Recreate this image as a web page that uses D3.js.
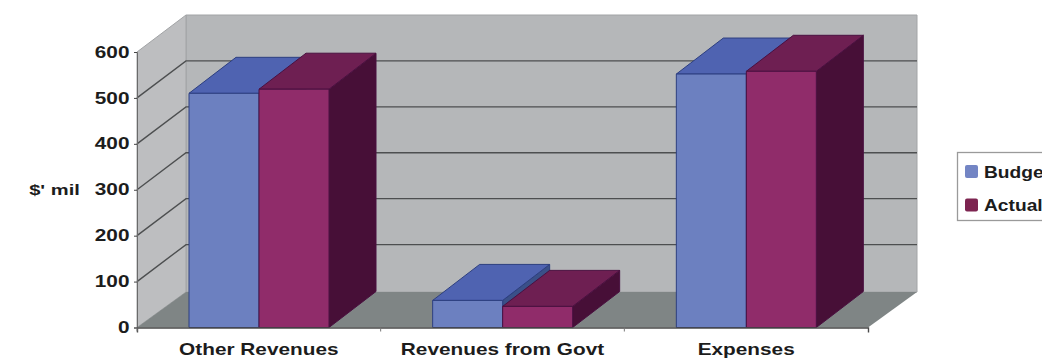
<!DOCTYPE html>
<html>
<head>
<meta charset="utf-8">
<script src="https://cdn.jsdelivr.net/npm/d3@7"></script>
<style>
  html, body { margin: 0; padding: 0; background: #fff; overflow: hidden; }
  text { font-family: "Liberation Sans", Arial, sans-serif; font-weight: bold; fill: #1c1c1c; }
</style>
</head>
<body>
<svg id="chart" width="1042" height="358"></svg>
<script>
const categories = ["Other Revenues", "Revenues from Govt", "Expenses"];
const seriesNames = ["Budget", "Actual"];
const budgetValues = [510, 59, 552];
const actualValues = [519, 46, 558];
const yTicks = [0, 100, 200, 300, 400, 500, 600];

const palette = {
  Budget: { front: "#6c80c0", top: "#4f63b1", side: "#3a5088", edge: "#2d3f80", key: "#7385c4" },
  Actual: { front: "#902c6a", top: "#6e1f52", side: "#470f37", edge: "#4a1040", key: "#7d2450" }
};

// Oblique projection: depth of the box and the shift each receding edge gets
const depthX = 49, depthY = 37, floorDepthY = 35.5;
const barDepthX = 47, barDepthY = 36;

// All labels are set in a horizontally widened face
const fontSize = 16, widen = 1.3, legendWiden = 1.2;

const svg = d3.select("#chart");
const x = d3.scaleBand().domain(categories).range([137, 868]);
const inner = d3.scaleBand().domain(seriesNames).range([52, 192]);
const y = d3.scaleLinear().domain([0, 600]).range([327.5, 52]);

const poly = (pts, fill, stroke) => svg.append("polygon")
  .attr("points", pts.map(p => p.join(",")).join(" "))
  .attr("fill", fill)
  .attr("stroke", stroke || "none")
  .attr("stroke-width", 1);

const x0 = x.range()[0], x1 = x.range()[1];
const yBase = y(0), yTop = y(600);

// Walls and floor
poly([[x0 + depthX, yTop - depthY], [x1 + depthX, yTop - depthY], [x1 + depthX, yBase - floorDepthY], [x0 + depthX, yBase - floorDepthY]], "#b5b7b9", "#a2a4a6");
poly([[x0, yTop], [x0 + depthX, yTop - depthY], [x0 + depthX, yBase - floorDepthY], [x0, yBase]], "#bdbec0", "#a2a4a6");
poly([[x0, yBase], [x0 + depthX, yBase - floorDepthY], [x1 + depthX, yBase - floorDepthY], [x1, yBase]], "#7f8585");

// Gridlines run along the side wall, then across the back wall
const gridPath = d3.line();
svg.append("g").selectAll("path")
  .data(yTicks.filter(t => t > 0 && t < 600))
  .join("path")
  .attr("d", t => gridPath([[x0, y(t)], [x0 + depthX, y(t) - depthY], [x1 + depthX, y(t) - depthY]]))
  .attr("fill", "none")
  .attr("stroke", "#4d4f50")
  .attr("stroke-width", 1.4);

// Boxes: budget first so the actual box sits in front of its side face
const rows = [
  { name: "Budget", values: budgetValues },
  { name: "Actual", values: actualValues }
];
rows.forEach(row => {
  const c = palette[row.name];
  categories.forEach((cat, i) => {
    const l = x(cat) + inner(row.name);
    const r = l + inner.bandwidth();
    const t = y(row.values[i]);
    poly([[r, t], [r + barDepthX, t - barDepthY], [r + barDepthX, yBase - barDepthY], [r, yBase]], c.side, c.edge);
    poly([[l, t], [l + barDepthX, t - barDepthY], [r + barDepthX, t - barDepthY], [r, t]], c.top, c.edge);
    poly([[l, t], [r, t], [r, yBase], [l, yBase]], c.front, c.edge);
  });
});

// Value axis
const yAxis = svg.append("g")
  .attr("transform", `translate(${x0},0)`)
  .call(d3.axisLeft(y).tickValues(yTicks).tickSize(3).tickPadding(4));
yAxis.select(".domain").attr("stroke", "#6a6a6a");
yAxis.selectAll(".tick line").attr("stroke", "#444");
yAxis.selectAll("text")
  .attr("x", -7.5 / widen)
  .attr("transform", `scale(${widen},1)`)
  .attr("font-size", fontSize)
  .style("font-family", "'Liberation Sans', Arial, sans-serif");

// Category axis with ticks between the groups
const xAxis = svg.append("g")
  .attr("transform", `translate(0,${yBase})`)
  .call(d3.axisBottom(x).tickSizeOuter(5).tickSizeInner(0).tickPadding(16));
xAxis.select(".domain").attr("stroke", "#4a4a4a").attr("stroke-width", 1.4);
xAxis.selectAll("text")
  .attr("transform", `scale(${widen},1)`)
  .attr("font-size", fontSize)
  .style("font-family", "'Liberation Sans', Arial, sans-serif");
xAxis.append("g").selectAll("line")
  .data(categories)
  .join("line")
  .attr("x1", d => x(d)).attr("x2", d => x(d))
  .attr("y1", 0).attr("y2", 4)
  .attr("stroke", "#777");

svg.append("text")
  .attr("transform", `translate(54.5,195) scale(${widen},1)`)
  .attr("text-anchor", "middle")
  .attr("font-size", fontSize - 0.5)
  .text("$' mil");

// Legend, which runs off the right edge of the page
const legend = svg.append("g");
legend.append("rect")
  .attr("x", 957.5).attr("y", 152.5)
  .attr("width", 110).attr("height", 68)
  .attr("fill", "#fff")
  .attr("stroke", "#9a9a9a")
  .attr("stroke-width", 1.3);
seriesNames.forEach((name, i) => {
  const rowY = 171.5 + i * 33.5;
  legend.append("rect")
    .attr("x", 965).attr("y", rowY - 6.5)
    .attr("width", 13).attr("height", 13)
    .attr("rx", 2)
    .attr("fill", palette[name].key);
  legend.append("text")
    .attr("transform", `translate(984,${rowY + 6}) scale(${legendWiden},1)`)
    .attr("font-size", fontSize)
    .text(name);
});
</script>
</body>
</html>
